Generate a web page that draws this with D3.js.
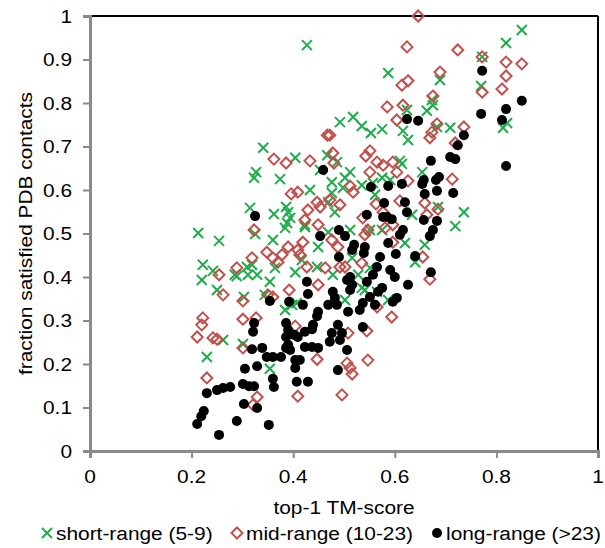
<!DOCTYPE html>
<html>
<head>
<meta charset="utf-8">
<script src="https://cdn.jsdelivr.net/npm/d3@7"></script>
<style>
  body { margin: 0; background: #fff; }
  text { font-family: "Liberation Sans", Arial, sans-serif; fill: #000; }
</style>
</head>
<body>
<script>
const w = 605
const h = 548
let padding = { top: 16, left: 90, bottom: 97, right: 7 }

// tick labels
const xTicks = [0, 0.2, 0.4, 0.6, 0.8, 1]
const yTicks = [0, 0.1, 0.2, 0.3, 0.4, 0.5, 0.6, 0.7, 0.8, 0.9, 1]
const seriesNames = ["short-range (5-9)", "mid-range (10-23)", "long-range (>23)"]

// short-range (5-9): [TM-score, fraction]
const shortRange = [
  [0.850, 0.968], [0.819, 0.938], [0.772, 0.906], [0.770, 0.839], [0.427, 0.933], [0.587, 0.869],
  [0.689, 0.853], [0.673, 0.807], [0.663, 0.782], [0.675, 0.795], [0.624, 0.784], [0.813, 0.743],
  [0.821, 0.754], [0.492, 0.756], [0.518, 0.768], [0.535, 0.747], [0.553, 0.731], [0.575, 0.740],
  [0.616, 0.736], [0.626, 0.715], [0.709, 0.743], [0.683, 0.745], [0.736, 0.549], [0.719, 0.517],
  [0.610, 0.667], [0.614, 0.660], [0.591, 0.623], [0.654, 0.641], [0.634, 0.543], [0.685, 0.561],
  [0.659, 0.474], [0.640, 0.434], [0.404, 0.674], [0.467, 0.680], [0.486, 0.664], [0.453, 0.646],
  [0.512, 0.641], [0.502, 0.628], [0.535, 0.611], [0.476, 0.618], [0.433, 0.600], [0.476, 0.593],
  [0.498, 0.605], [0.557, 0.616], [0.575, 0.628], [0.390, 0.549], [0.394, 0.536], [0.423, 0.520],
  [0.469, 0.572], [0.482, 0.549], [0.561, 0.589], [0.341, 0.697], [0.327, 0.641], [0.323, 0.628],
  [0.374, 0.625], [0.315, 0.559], [0.362, 0.545], [0.386, 0.561], [0.388, 0.524], [0.213, 0.501],
  [0.254, 0.483], [0.325, 0.499], [0.360, 0.485], [0.222, 0.428], [0.242, 0.414], [0.220, 0.393],
  [0.250, 0.370], [0.289, 0.402], [0.309, 0.423], [0.319, 0.428], [0.329, 0.405], [0.311, 0.405],
  [0.354, 0.389], [0.344, 0.359], [0.364, 0.421], [0.384, 0.324], [0.303, 0.354], [0.262, 0.255],
  [0.301, 0.246], [0.230, 0.216], [0.354, 0.189], [0.384, 0.513], [0.407, 0.340], [0.423, 0.515],
  [0.449, 0.469], [0.404, 0.411], [0.417, 0.439], [0.478, 0.405], [0.516, 0.444], [0.502, 0.347],
  [0.528, 0.405], [0.541, 0.370], [0.565, 0.366], [0.551, 0.421], [0.398, 0.336], [0.469, 0.503],
  [0.512, 0.508], [0.551, 0.508], [0.620, 0.478], [0.587, 0.347], [0.535, 0.375], [0.285, 0.405],
  [0.447, 0.423], [0.575, 0.508]
]

// mid-range (10-23)
const midRange = [
  [0.646, 1.000], [0.624, 0.929], [0.724, 0.922], [0.772, 0.906], [0.819, 0.894], [0.850, 0.890],
  [0.819, 0.862], [0.689, 0.871], [0.614, 0.841], [0.626, 0.851], [0.772, 0.825], [0.811, 0.832],
  [0.675, 0.816], [0.585, 0.791], [0.616, 0.795], [0.604, 0.761], [0.467, 0.726], [0.472, 0.726],
  [0.683, 0.752], [0.673, 0.733], [0.669, 0.720], [0.736, 0.745], [0.719, 0.708], [0.551, 0.690],
  [0.543, 0.678], [0.478, 0.685], [0.433, 0.667], [0.480, 0.662], [0.565, 0.664], [0.577, 0.657],
  [0.596, 0.664], [0.604, 0.641], [0.551, 0.641], [0.626, 0.621], [0.713, 0.625], [0.512, 0.609],
  [0.518, 0.595], [0.472, 0.577], [0.492, 0.566], [0.447, 0.572], [0.453, 0.561], [0.429, 0.554],
  [0.423, 0.531], [0.659, 0.570], [0.685, 0.556], [0.610, 0.575], [0.537, 0.536], [0.563, 0.568],
  [0.596, 0.520], [0.476, 0.485], [0.535, 0.432], [0.502, 0.423], [0.669, 0.395], [0.655, 0.446],
  [0.577, 0.549], [0.663, 0.543], [0.396, 0.591], [0.409, 0.595], [0.449, 0.520], [0.362, 0.671],
  [0.386, 0.662], [0.323, 0.508], [0.348, 0.457], [0.360, 0.444], [0.370, 0.434], [0.378, 0.451],
  [0.319, 0.444], [0.289, 0.421], [0.254, 0.405], [0.262, 0.359], [0.301, 0.345], [0.360, 0.354],
  [0.222, 0.306], [0.220, 0.290], [0.211, 0.262], [0.242, 0.260], [0.250, 0.257], [0.301, 0.303],
  [0.327, 0.306], [0.301, 0.237], [0.230, 0.168], [0.329, 0.124], [0.321, 0.106], [0.392, 0.370],
  [0.404, 0.287], [0.409, 0.126], [0.390, 0.469], [0.409, 0.462], [0.413, 0.451], [0.419, 0.480],
  [0.488, 0.469], [0.492, 0.423], [0.463, 0.421], [0.449, 0.382], [0.541, 0.497], [0.547, 0.508],
  [0.565, 0.331], [0.545, 0.276], [0.508, 0.271], [0.447, 0.211], [0.547, 0.209], [0.506, 0.202],
  [0.512, 0.191], [0.516, 0.177], [0.496, 0.129], [0.594, 0.308], [0.596, 0.480], [0.581, 0.513],
  [0.427, 0.423], [0.350, 0.359]
]

// long-range (>23)
const longRange = [
  [0.772, 0.874], [0.770, 0.775], [0.819, 0.786], [0.811, 0.761], [0.850, 0.805], [0.819, 0.655],
  [0.624, 0.763], [0.646, 0.759], [0.736, 0.726], [0.724, 0.703], [0.709, 0.676], [0.719, 0.671],
  [0.671, 0.667], [0.459, 0.646], [0.687, 0.630], [0.681, 0.623], [0.657, 0.623], [0.654, 0.614],
  [0.614, 0.614], [0.587, 0.609], [0.553, 0.607], [0.659, 0.591], [0.683, 0.598], [0.715, 0.593],
  [0.620, 0.572], [0.579, 0.570], [0.624, 0.549], [0.545, 0.543], [0.585, 0.538], [0.594, 0.533],
  [0.657, 0.531], [0.683, 0.529], [0.675, 0.508], [0.669, 0.494], [0.616, 0.508], [0.610, 0.497],
  [0.490, 0.508], [0.502, 0.494], [0.453, 0.494], [0.587, 0.478], [0.520, 0.474], [0.516, 0.462],
  [0.541, 0.469], [0.539, 0.455], [0.490, 0.446], [0.602, 0.453], [0.640, 0.448], [0.571, 0.446],
  [0.565, 0.423], [0.591, 0.416], [0.512, 0.400], [0.671, 0.411], [0.600, 0.400], [0.325, 0.540],
  [0.354, 0.345], [0.392, 0.343], [0.386, 0.294], [0.323, 0.294], [0.321, 0.274], [0.386, 0.262],
  [0.402, 0.267], [0.319, 0.234], [0.339, 0.237], [0.386, 0.237], [0.394, 0.232], [0.348, 0.216],
  [0.360, 0.216], [0.376, 0.216], [0.329, 0.195], [0.305, 0.189], [0.360, 0.166], [0.362, 0.147],
  [0.301, 0.154], [0.313, 0.149], [0.323, 0.149], [0.276, 0.147], [0.262, 0.145], [0.250, 0.140],
  [0.230, 0.133], [0.303, 0.108], [0.329, 0.099], [0.224, 0.092], [0.219, 0.080], [0.211, 0.062],
  [0.289, 0.069], [0.352, 0.060], [0.254, 0.037], [0.427, 0.389], [0.429, 0.361], [0.506, 0.393],
  [0.516, 0.382], [0.512, 0.370], [0.478, 0.366], [0.482, 0.352], [0.469, 0.336], [0.486, 0.336],
  [0.508, 0.320], [0.449, 0.320], [0.447, 0.310], [0.419, 0.336], [0.537, 0.340], [0.531, 0.324],
  [0.551, 0.354], [0.561, 0.336], [0.545, 0.389], [0.557, 0.405], [0.567, 0.366], [0.390, 0.278],
  [0.439, 0.290], [0.437, 0.280], [0.409, 0.262], [0.423, 0.274], [0.488, 0.290], [0.496, 0.271],
  [0.476, 0.271], [0.472, 0.251], [0.537, 0.285], [0.506, 0.232], [0.390, 0.244], [0.423, 0.239],
  [0.437, 0.239], [0.449, 0.237], [0.404, 0.209], [0.413, 0.209], [0.404, 0.191], [0.488, 0.186],
  [0.407, 0.159], [0.429, 0.159], [0.626, 0.382], [0.575, 0.375], [0.604, 0.352], [0.596, 0.343],
  [0.577, 0.538], [0.492, 0.255]
]

const green = "#1fad4c"
const red = "#c0504d"
const gray = "#8a8a8a"
const sx = 1.16 // the reference text is a bit wider than Arial

const svg = d3.select("body")
    .append("svg")
    .attr("width", w)
    .attr("height", h)

const x = d3.scaleLinear().domain([0, 1]).range([padding.left, w - padding.right])
const y = d3.scaleLinear().domain([0, 1]).range([h - padding.bottom, padding.top])

// frame: top + right black, left + bottom gray
svg.append("line").attr("x1", x(0)).attr("x2", x(1)).attr("y1", y(1)).attr("y2", y(1))
    .attr("stroke", "#000").attr("stroke-width", 2)
svg.append("line").attr("x1", x(1)).attr("x2", x(1)).attr("y1", y(1)).attr("y2", y(0))
    .attr("stroke", "#000").attr("stroke-width", 2)

const xAxis = svg.append("g")
    .attr("transform", `translate(0,${y(0)})`)
    .call(d3.axisBottom(x).tickValues(xTicks).tickSize(7).tickFormat(() => ""))
const yAxis = svg.append("g")
    .attr("transform", `translate(${x(0)},0)`)
    .call(d3.axisLeft(y).tickValues(yTicks).tickSize(7).tickFormat(() => ""))

for (let ax of [xAxis, yAxis]) {
    ax.select(".domain").attr("stroke", gray).attr("stroke-width", 3)
    ax.selectAll(".tick line").attr("stroke", gray).attr("stroke-width", 2)
}

// tick labels (stretched a little to match the picture)
const fs = 18
xTicks.forEach(t => {
    svg.append("text")
        .attr("transform", `translate(${x(t)},${y(0) + 32}) scale(${sx},1)`)
        .attr("text-anchor", "middle")
        .attr("font-size", fs)
        .text(d3.format("~g")(t))
})
yTicks.forEach(t => {
    svg.append("text")
        .attr("transform", `translate(${x(0) - 18},${y(t) + 6.5}) scale(${sx},1)`)
        .attr("text-anchor", "end")
        .attr("font-size", fs)
        .text(d3.format("~g")(t))
})

// axis titles
svg.append("text")
    .attr("transform", `translate(${(x(0) + x(1)) / 2},${y(0) + 63}) scale(${sx},1)`)
    .attr("text-anchor", "middle")
    .attr("font-size", fs)
    .text("top-1 TM-score")
svg.append("text")
    .attr("transform", `translate(32,${(y(0) + y(1)) / 2}) rotate(-90) scale(${sx},1)`)
    .attr("text-anchor", "middle")
    .attr("font-size", fs)
    .text("fraction satisfied PDB contacts")

// marker makers
const cross = (g, cx, cy, r) => g.append("path")
    .attr("d", `M${cx - r},${cy - r}L${cx + r},${cy + r}M${cx - r},${cy + r}L${cx + r},${cy - r}`)
    .attr("stroke", green).attr("stroke-width", 2).attr("fill", "none")
const diamond = (g, cx, cy, r) => g.append("path")
    .attr("d", `M${cx},${cy - r}L${cx + r},${cy}L${cx},${cy + r}L${cx - r},${cy}Z`)
    .attr("stroke", red).attr("stroke-width", 2).attr("fill", "none")
const dot = (g, cx, cy, r) => g.append("circle")
    .attr("cx", cx).attr("cy", cy).attr("r", r).attr("fill", "#000")

const marks = svg.append("g")
shortRange.forEach(d => cross(marks, x(d[0]), y(d[1]), 5))
midRange.forEach(d => diamond(marks, x(d[0]), y(d[1]), 5.5))
longRange.forEach(d => dot(marks, x(d[0]), y(d[1]), 5))

// legend
const legend = svg.append("g")
const legendY = 533
const legendX = [47, 237, 437]
const makers = [(g, cx, cy) => cross(g, cx, cy, 5), (g, cx, cy) => diamond(g, cx, cy, 5.5), (g, cx, cy) => dot(g, cx, cy, 5)]
seriesNames.forEach((name, i) => {
    makers[i](legend, legendX[i], legendY)
    legend.append("text")
        .attr("transform", `translate(${legendX[i] + 9},${legendY + 6.5}) scale(${sx},1)`)
        .attr("font-size", fs)
        .text(name)
})
</script>
</body>
</html>
